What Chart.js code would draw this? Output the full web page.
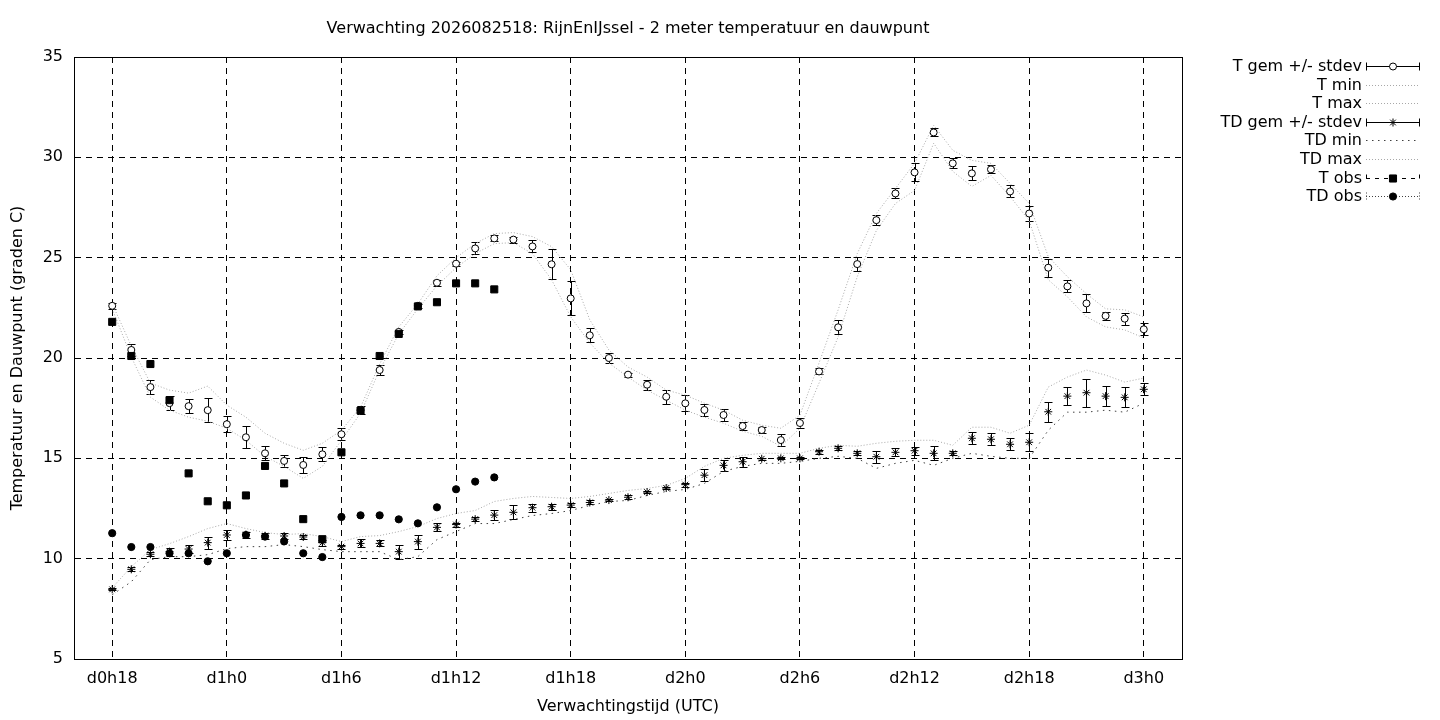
<!DOCTYPE html>
<html>
<head>
<meta charset="utf-8">
<script src="https://cdn.jsdelivr.net/npm/chart.js@4/dist/chart.umd.min.js"></script>
<style>
  html, body { margin: 0; padding: 0; background: #fff; }
  .wrap { width: 1440px; height: 720px; position: relative; }
</style>
</head>
<body>
<div class="wrap"><canvas class="chart"></canvas></div>
<script>
// forecast hours (d0h18 = 18 ... d3h0 = 72)
const hours = [
  18, 19, 20, 21, 22, 23, 24, 25, 26, 27, 28, 29, 30, 31, 32, 33, 34, 35, 36,
  37, 38, 39, 40, 41, 42, 43, 44, 45, 46, 47, 48, 49, 50, 51, 52, 53, 54, 55,
  56, 57, 58, 59, 60, 61, 62, 63, 64, 65, 66, 67, 68, 69, 70, 71, 72
];
const tMean = [
  22.6, 20.4, 18.55, 17.75, 17.6, 17.4,
  16.7, 16.05, 15.25, 14.87, 14.67, 15.2,
  16.2, 17.4, 19.4, 21.3, 22.6, 23.75,
  24.7, 25.46, 25.96, 25.9, 25.56, 24.67,
  22.97, 21.13, 20.0, 19.17, 18.67, 18.07,
  17.74, 17.41, 17.16, 16.61, 16.41, 15.91,
  16.76, 19.33, 21.53, 24.68, 26.87, 28.2,
  29.25, 31.24, 29.7, 29.2, 29.4, 28.3,
  27.2, 24.5, 23.57, 22.72, 22.1, 21.96,
  21.43
];
const tSd = [
  0.15, 0.3, 0.35, 0.35, 0.35, 0.6,
  0.4, 0.55, 0.35, 0.3, 0.4, 0.35,
  0.3, 0.2, 0.25, 0.1, 0.1, 0.15,
  0.1, 0.3, 0.15, 0.15, 0.3, 0.75,
  0.85, 0.35, 0.25, 0.1, 0.25, 0.35,
  0.4, 0.3, 0.3, 0.2, 0.15, 0.3,
  0.25, 0.15, 0.35, 0.35, 0.25, 0.25,
  0.45, 0.2, 0.25, 0.35, 0.2, 0.3,
  0.35, 0.45, 0.3, 0.45, 0.2, 0.3,
  0.3
];
const tMax = [
  22.7, 20.6, 18.75, 18.4, 18.25, 18.6,
  17.65, 17.05, 16.25, 15.75, 15.4, 15.75,
  16.4, 17.55, 19.7, 21.55, 22.7, 24.1,
  25.0, 25.7, 26.2, 26.25, 26.05, 25.55,
  24.4, 21.9, 20.4, 19.55, 19.05, 18.4,
  18.15, 17.75, 17.4, 16.9, 16.65, 16.5,
  17.15, 19.75, 22.4, 25.2, 27.2, 28.45,
  29.7, 31.6, 30.35, 29.85, 29.7, 28.7,
  27.7, 25.05, 24.05, 23.2, 22.45, 22.4,
  22.05
];
const tMin = [
  22.45, 20.05, 18.05, 17.4, 17.05, 16.85,
  16.5, 15.9, 15.1, 14.6, 14.0, 14.6,
  15.9, 17.25, 19.4, 21.2, 22.45, 23.6,
  24.5, 25.2, 25.7, 25.75, 25.2, 23.9,
  22.05, 20.75, 19.75, 19.05, 18.4, 17.9,
  17.4, 17.05, 16.75, 16.35, 16.1, 15.6,
  16.5, 18.75, 21.05, 24.05, 26.35, 27.7,
  28.35, 30.7, 29.3, 28.55, 29.1, 28.05,
  26.85, 23.9, 23.05, 22.05, 21.55, 21.4,
  21.0
];
const tdMean = [
  8.47, 9.47, 10.22, 10.35, 10.48, 10.8,
  11.18, 11.2, 11.14, 11.13, 11.08, 10.8,
  10.6, 10.76, 10.76, 10.35, 10.85, 11.56,
  11.7, 11.97, 12.17, 12.31, 12.54, 12.59,
  12.67, 12.8, 12.92, 13.06, 13.32, 13.52,
  13.69, 14.16, 14.65, 14.83, 14.98, 15.0,
  15.0, 15.33, 15.5, 15.25, 15.08, 15.3,
  15.38, 15.25, 15.25, 16.0, 15.95, 15.7,
  15.8, 17.32, 18.1, 18.27, 18.1, 18.04,
  18.44
];
const tdSd = [
  0.05, 0.1, 0.1, 0.2, 0.2, 0.3,
  0.25, 0.15, 0.15, 0.15, 0.1, 0.15,
  0.1, 0.2, 0.15, 0.35, 0.35, 0.2,
  0.1, 0.1, 0.25, 0.35, 0.2, 0.15,
  0.1, 0.1, 0.05, 0.1, 0.05, 0.05,
  0.1, 0.3, 0.27, 0.25, 0.05, 0.05,
  0.05, 0.1, 0.1, 0.1, 0.3, 0.2,
  0.2, 0.35, 0.1, 0.3, 0.3, 0.3,
  0.45, 0.5, 0.45, 0.7, 0.5, 0.5,
  0.3
];
const tdMax = [
  8.55, 9.6, 10.45, 10.75, 11.1, 11.5,
  11.75, 11.5, 11.3, 11.2, 11.25, 11.1,
  10.85, 11.1, 11.15, 11.35, 11.6, 12.0,
  12.25, 12.4, 12.85, 13.0, 13.1, 13.05,
  13.0, 13.1, 13.25, 13.4, 13.5, 13.65,
  14.0, 14.6, 15.0, 15.15, 15.25, 15.25,
  15.25, 15.5, 15.65, 15.6, 15.75, 15.85,
  15.9, 15.9, 15.65, 16.55, 16.55, 16.25,
  16.65, 18.55, 19.05, 19.4, 19.15, 18.8,
  19.0
];
const tdMin = [
  8.2, 8.85, 9.95, 10.1, 10.1, 10.2,
  10.5, 10.6, 10.6, 10.7, 10.6, 10.45,
  10.35, 10.35, 10.35, 9.95, 10.1, 10.95,
  11.35, 11.75, 11.75, 11.95, 12.15, 12.25,
  12.4, 12.65, 12.85, 12.9, 13.15, 13.35,
  13.45, 13.75, 14.35, 14.6, 14.75, 14.75,
  14.85, 15.0, 15.1, 15.0, 14.5, 14.75,
  14.9, 14.65, 15.0, 15.25, 15.1, 15.0,
  15.0, 16.4, 17.3, 17.3, 17.4, 17.3,
  17.75
];
// observations
const obsHours = [
  18, 19, 20, 21, 22, 23, 24, 25, 26, 27, 28, 29, 30, 31, 32, 33, 34, 35, 36, 37, 38
];
const tObs = [
  21.8, 20.1, 19.7, 17.9, 14.25, 12.86, 12.66, 13.15, 14.62, 13.75, 11.97,
  10.97, 15.3, 17.38, 20.1, 21.2, 22.57, 22.78, 23.72, 23.72, 23.42
];
const tdObs = [
  11.27, 10.58, 10.58, 10.27, 10.27, 9.87, 10.27, 11.18, 11.1, 10.86, 10.27,
  10.08, 12.08, 12.16, 12.16, 11.96, 11.76, 12.56, 13.46, 13.84, 14.05
];
const tickHours = [18, 24, 30, 36, 42, 48, 54, 60, 66, 72];
const tickLabels = ['d0h18', 'd1h0', 'd1h6', 'd1h12', 'd1h18', 'd2h0', 'd2h6', 'd2h12', 'd2h18', 'd3h0'];
const seriesNames = [
  'T gem +/- stdev', 'T min', 'T max', 'TD gem +/- stdev',
  'TD min', 'TD max', 'T obs', 'TD obs'
];
const titleText = 'Verwachting 2026082518: RijnEnIJssel - 2 meter temperatuur en dauwpunt';

const FONT = 'DejaVu Sans';
const FSIZE = 16;
const LIGHT_DOT = '#a8a8a8';
const DARK_DOT = '#404040';

function pts(xs, ys){
  return xs.map((x, i) => ({x: x, y: ys[i]}));
}

// error bars for the two ensemble means
const errorBars = {
  id: 'errorBars',
  beforeDatasetsDraw(chart){
    const {ctx, scales: {x, y}} = chart;
    ctx.save();
    ctx.strokeStyle = '#000';
    ctx.lineWidth = 1;
    [[tMean, tSd], [tdMean, tdSd]].forEach(([m, s]) => {
      hours.forEach((h, i) => {
        const px = Math.round(x.getPixelForValue(h)) + 0.5;
        const top = Math.round(y.getPixelForValue(m[i] + s[i])) + 0.5;
        const bot = Math.round(y.getPixelForValue(m[i] - s[i])) + 0.5;
        ctx.beginPath();
        ctx.moveTo(px, top); ctx.lineTo(px, bot);
        ctx.moveTo(px - 4, top); ctx.lineTo(px + 4, top);
        ctx.moveTo(px - 4, bot); ctx.lineTo(px + 4, bot);
        ctx.stroke();
      });
    });
    ctx.restore();
  }
};

// solid frame round the plot
const frame = {
  id: 'frame',
  beforeDatasetsDraw(chart){
    const {ctx, chartArea: a} = chart;
    ctx.save();
    ctx.strokeStyle = '#000';
    ctx.lineWidth = 1;
    ctx.setLineDash([]);
    ctx.strokeRect(Math.round(a.left) + 0.5, Math.round(a.top) + 0.5,
      Math.round(a.right - a.left), Math.round(a.bottom - a.top));
    ctx.restore();
  }
};

// gnuplot style key: text right aligned, sample to the right
const keyBox = {
  id: 'keyBox',
  afterDraw(chart){
    const ctx = chart.ctx;
    const x0 = 1366, x1 = 1420, xm = 1393, textX = 1362;
    ctx.save();
    chart.data.datasets.forEach((ds, i) => {
      const y = Math.round(66 + i * 18.6) + 0.5;
      ctx.fillStyle = '#000';
      ctx.font = FSIZE + 'px "' + FONT + '"';
      ctx.textAlign = 'right';
      ctx.textBaseline = 'middle';
      ctx.fillText(ds.label, textX, y);

      const k = ds.keyKind;
      ctx.lineWidth = 1;
      if (k === 'err'){
        ctx.strokeStyle = '#000';
        ctx.setLineDash([]);
        ctx.beginPath();
        ctx.moveTo(x0, y); ctx.lineTo(x1, y);
        ctx.moveTo(x0 + 0.5, y - 4); ctx.lineTo(x0 + 0.5, y + 4);
        ctx.moveTo(x1 - 0.5, y - 4); ctx.lineTo(x1 - 0.5, y + 4);
        ctx.stroke();
      } else if (k === 'line'){
        ctx.strokeStyle = ds.borderColor;
        ctx.setLineDash(ds.borderDash);
        ctx.beginPath();
        ctx.moveTo(x0, y); ctx.lineTo(x1, y);
        ctx.stroke();
      } else {
        ctx.strokeStyle = k === 'tobs' ? '#000' : DARK_DOT;
        ctx.setLineDash(k === 'tobs' ? [4, 5] : [1, 2]);
        ctx.beginPath();
        ctx.moveTo(x0, y); ctx.lineTo(x1, y);
        ctx.moveTo(x0 + 0.5, y - 4); ctx.lineTo(x0 + 0.5, y + 4);
        ctx.moveTo(x1 - 0.5, y - 4); ctx.lineTo(x1 - 0.5, y + 4);
        ctx.stroke();
      }
      ctx.setLineDash([]);
      if (ds.pointRadius > 0){
        ctx.fillStyle = ds.pointBackgroundColor;
        ctx.strokeStyle = ds.pointBorderColor;
        Chart.helpers.drawPoint(ctx, {
          pointStyle: ds.pointStyle,
          radius: ds.pointRadius,
          rotation: 0,
          borderWidth: 1
        }, xm, y);
      }
    });
    ctx.restore();
  }
};

const markerSet = {showLine: false, borderWidth: 1, pointBorderWidth: 1};
const bandSet = {pointRadius: 0, borderWidth: 1, tension: 0, fill: false, keyKind: 'line'};

const chart = new Chart(document.querySelector('.chart').getContext('2d'), {
  type: 'line',
  data: {
    datasets: [
      Object.assign({}, markerSet, {
        label: seriesNames[0], data: pts(hours, tMean), order: 1, keyKind: 'err',
        pointStyle: 'circle', pointRadius: 3.5,
        pointBackgroundColor: '#fff', pointBorderColor: '#000', borderColor: '#000'
      }),
      Object.assign({}, bandSet, {
        label: seriesNames[1], data: pts(hours, tMin), order: 2,
        borderColor: LIGHT_DOT, borderDash: [1, 2]
      }),
      Object.assign({}, bandSet, {
        label: seriesNames[2], data: pts(hours, tMax), order: 2,
        borderColor: LIGHT_DOT, borderDash: [1, 2]
      }),
      Object.assign({}, markerSet, {
        label: seriesNames[3], data: pts(hours, tdMean), order: 1, keyKind: 'err',
        pointStyle: 'star', pointRadius: 4,
        pointBackgroundColor: '#000', pointBorderColor: '#000', borderColor: '#000'
      }),
      Object.assign({}, bandSet, {
        label: seriesNames[4], data: pts(hours, tdMin), order: 2,
        borderColor: DARK_DOT, borderDash: [1.5, 4.5]
      }),
      Object.assign({}, bandSet, {
        label: seriesNames[5], data: pts(hours, tdMax), order: 2,
        borderColor: LIGHT_DOT, borderDash: [1, 2]
      }),
      Object.assign({}, markerSet, {
        label: seriesNames[6], data: pts(obsHours, tObs), order: 0, keyKind: 'tobs',
        pointStyle: 'rect', pointRadius: 5,
        pointBackgroundColor: '#000', pointBorderColor: '#000', borderColor: '#000'
      }),
      Object.assign({}, markerSet, {
        label: seriesNames[7], data: pts(obsHours, tdObs), order: 0, keyKind: 'tdobs',
        pointStyle: 'circle', pointRadius: 3.6,
        pointBackgroundColor: '#000', pointBorderColor: '#000', borderColor: '#000'
      }),
    ]
  },
  options: {
    responsive: true,
    maintainAspectRatio: false,
    animation: false,
    events: [],
    layout: {padding: {left: 0, right: 258, top: 0, bottom: 0}},
    plugins: {
      legend: {display: false},
      tooltip: {enabled: false},
      title: {
        display: true,
        text: titleText,
        fullSize: false,
        color: '#000',
        font: {family: FONT, size: FSIZE, weight: 'normal', lineHeight: 1.2},
        padding: {top: 19.4, bottom: 18.4}
      }
    },
    scales: {
      x: {
        type: 'linear',
        min: 16,
        max: 74,
        afterBuildTicks: s => { s.ticks = tickHours.map(v => ({value: v})); },
        afterFit: s => { s.height = 61; },
        ticks: {
          callback: v => tickLabels[tickHours.indexOf(v)],
          color: '#000',
          font: {family: FONT, size: FSIZE},
          padding: 10,
          maxRotation: 0,
          autoSkip: false
        },
        grid: {color: '#000', lineWidth: 1, drawTicks: false},
        border: {display: true, color: '#000', dash: [6, 5]},
        title: {
          display: true,
          text: 'Verwachtingstijd (UTC)',
          color: '#000',
          font: {family: FONT, size: FSIZE},
          padding: {top: 0, bottom: 3.4}
        }
      },
      y: {
        type: 'linear',
        min: 5,
        max: 35,
        afterFit: s => { s.width = 74; },
        ticks: {
          stepSize: 5,
          color: '#000',
          font: {family: FONT, size: FSIZE},
          padding: 11
        },
        grid: {color: '#000', lineWidth: 1, drawTicks: false},
        border: {display: true, color: '#000', dash: [6, 5]},
        title: {
          display: true,
          text: 'Temperatuur en Dauwpunt (graden C)',
          color: '#000',
          font: {family: FONT, size: FSIZE},
          padding: {top: 8.4, bottom: 0}
        }
      }
    }
  },
  plugins: [frame, errorBars, keyBox]
});
</script>
</body>
</html>
